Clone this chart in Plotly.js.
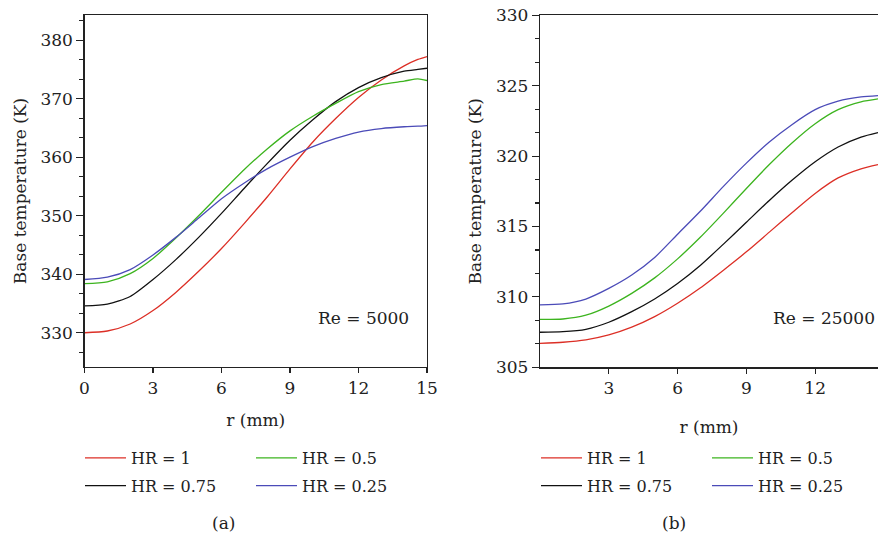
<!DOCTYPE html>
<html>
<head>
<meta charset="utf-8">
<script src="https://cdn.plot.ly/plotly-3.0.1.min.js"></script>
<style>html,body{margin:0;padding:0;background:#fff;overflow:hidden;}#chart{width:878px;height:537px;}</style>
</head>
<body>
<div id="chart"></div>
<script>
// ----- Data -----
var seriesNames = ['HR = 1', 'HR = 0.75', 'HR = 0.5', 'HR = 0.25'];
var seriesColors = ['#dc2f26', '#111111', '#3db41f', '#4b4bb8'];

// Panel (a): Re = 5000
var rA = [0, 1, 2, 3, 4, 5, 6, 7, 8, 9, 10, 11, 12, 13, 14, 14.6, 15];
var hr1A   = [330.0, 330.3, 331.5, 333.8, 336.9, 340.5, 344.4, 348.7, 353.2, 358.0, 362.6, 366.6, 370.2, 373.2, 375.6, 376.7, 377.2];
var hr075A = [334.6, 334.9, 336.2, 339.1, 342.5, 346.3, 350.4, 354.7, 358.9, 362.9, 366.4, 369.5, 371.9, 373.6, 374.7, 375.0, 375.2];
var hr05A  = [338.4, 338.7, 340.1, 342.7, 346.2, 350.0, 354.0, 357.9, 361.4, 364.5, 367.0, 369.2, 371.2, 372.4, 373.0, 373.4, 373.1];
var hr025A = [339.1, 339.5, 340.8, 343.3, 346.3, 349.6, 352.9, 355.6, 358.0, 360.0, 361.8, 363.2, 364.3, 364.9, 365.2, 365.3, 365.4];

// Panel (b): Re = 25000
var rB = [0, 1, 2, 3, 4, 5, 6, 7, 8, 9, 10, 11, 12, 13, 14, 14.74];
var hr1B   = [306.70, 306.78, 306.95, 307.30, 307.85, 308.60, 309.55, 310.65, 311.90, 313.20, 314.60, 316.00, 317.35, 318.45, 319.10, 319.40];
var hr075B = [307.49, 307.53, 307.70, 308.20, 308.95, 309.85, 310.95, 312.25, 313.75, 315.30, 316.85, 318.30, 319.60, 320.65, 321.35, 321.67];
var hr05B  = [308.40, 308.43, 308.70, 309.35, 310.25, 311.35, 312.70, 314.25, 315.95, 317.70, 319.40, 320.95, 322.30, 323.30, 323.85, 324.06];
var hr025B = [309.43, 309.50, 309.85, 310.60, 311.55, 312.80, 314.45, 316.10, 317.85, 319.50, 321.00, 322.25, 323.30, 323.90, 324.20, 324.30];

var xTicksA = [0, 3, 6, 9, 12, 15];
var xTicksB = [3, 6, 9, 12];
var yTicksA = [330, 340, 350, 360, 370, 380];
var yTicksB = [305, 310, 315, 320, 325, 330];
var reLabels = ['Re = 5000', 'Re = 25000'];
var panelLabels = ['(a)', '(b)'];
var xTitle = 'r (mm)';
var yTitle = 'Base temperature (K)';

// ----- Traces -----
var seriesA = [hr1A, hr075A, hr05A, hr025A];
var seriesB = [hr1B, hr075B, hr05B, hr025B];
var legA = ['legend', 'legend', 'legend2', 'legend2'];
var legB = ['legend3', 'legend3', 'legend4', 'legend4'];
var traces = [];
for (var i = 0; i < 4; i++) {
  traces.push({x: rA, y: seriesA[i], type: 'scatter', mode: 'lines', name: seriesNames[i],
    line: {color: seriesColors[i], width: 1.3, shape: 'spline', smoothing: 0.7},
    xaxis: 'x', yaxis: 'y', legend: legA[i], legendgroup: 'a' + i});
}
for (var j = 0; j < 4; j++) {
  traces.push({x: rB, y: seriesB[j], type: 'scatter', mode: 'lines', name: seriesNames[j],
    line: {color: seriesColors[j], width: 1.3, shape: 'spline', smoothing: 0.7},
    xaxis: 'x2', yaxis: 'y2', legend: legB[j], legendgroup: 'b' + j});
}

var W = 878, H = 537;
var FONT = 'DejaVu Serif';
var INK = '#222';
var tickFont = {family: FONT, size: 17, color: INK};
var titleFont = {family: FONT, size: 17, color: INK};

function px(x) { return x / W; }
function py(y) { return (H - y) / H; }

var axisCommon = {
  showline: true, linecolor: INK, linewidth: 1.2,
  ticks: 'outside', tickcolor: INK, tickwidth: 1.2,
  showgrid: false, zeroline: false, tickfont: tickFont, automargin: false
};

function legendAt(x) {
  return {x: px(x), y: py(441), xanchor: 'left', yanchor: 'top', orientation: 'v',
    font: {family: FONT, size: 16, color: INK}, bgcolor: 'rgba(0,0,0,0)',
    borderwidth: 0, itemwidth: 41, tracegroupgap: 4, traceorder: 'grouped'};
}

function label(xref, yref, x, y, text) {
  return {xref: xref, yref: yref, x: x, y: y, text: text, showarrow: false,
    xanchor: 'center', yanchor: 'middle', font: {family: FONT, size: 17, color: INK}};
}

var layout = {
  width: W, height: H,
  margin: {l: 0, r: 0, t: 0, b: 0},
  paper_bgcolor: '#fff', plot_bgcolor: '#fff',
  showlegend: true,
  font: {family: FONT, color: INK},
  xaxis: Object.assign({}, axisCommon, {
    domain: [px(84.5), px(427)], range: [0, 15], tickvals: xTicksA, ticklen: 5,
    mirror: true, anchor: 'y',
    title: {text: xTitle, font: titleFont, standoff: 17}
  }),
  yaxis: Object.assign({}, axisCommon, {
    domain: [py(367), py(15)], range: [324.15, 384.3], tickvals: yTicksA, ticklen: 7,
    mirror: true, anchor: 'x',
    minor: {dtick: 10 / 3, tick0: 330, ticklen: 4, tickcolor: INK, tickwidth: 1.2, ticks: 'outside', showgrid: false},
    title: {text: yTitle, font: titleFont, standoff: 9}
  }),
  xaxis2: Object.assign({}, axisCommon, {
    domain: [px(540), 1], range: [0, 14.74], tickvals: xTicksB, ticklen: 5,
    mirror: true, anchor: 'y2',
    title: {text: xTitle, font: titleFont, standoff: 24}
  }),
  yaxis2: Object.assign({}, axisCommon, {
    domain: [py(367.3), py(15.3)], range: [305, 330], tickvals: yTicksB, ticklen: 7,
    mirror: false, anchor: 'x2',
    minor: {dtick: 5 / 3, tick0: 305, ticklen: 4, tickcolor: INK, tickwidth: 1.2, ticks: 'outside', showgrid: false},
    title: {text: yTitle, font: titleFont, standoff: 10}
  }),
  legend: legendAt(80),
  legend2: legendAt(251),
  legend3: legendAt(536),
  legend4: legendAt(707),
  annotations: [
    label('x', 'y', 12.2, 332.6, reLabels[0]),
    label('x2', 'y2', 12.4, 308.5, reLabels[1]),
    label('paper', 'paper', px(223), py(523), panelLabels[0]),
    label('paper', 'paper', px(674), py(523), panelLabels[1])
  ]
};

Plotly.newPlot('chart', traces, layout, {displayModeBar: false, staticPlot: true});
</script>
</body>
</html>
